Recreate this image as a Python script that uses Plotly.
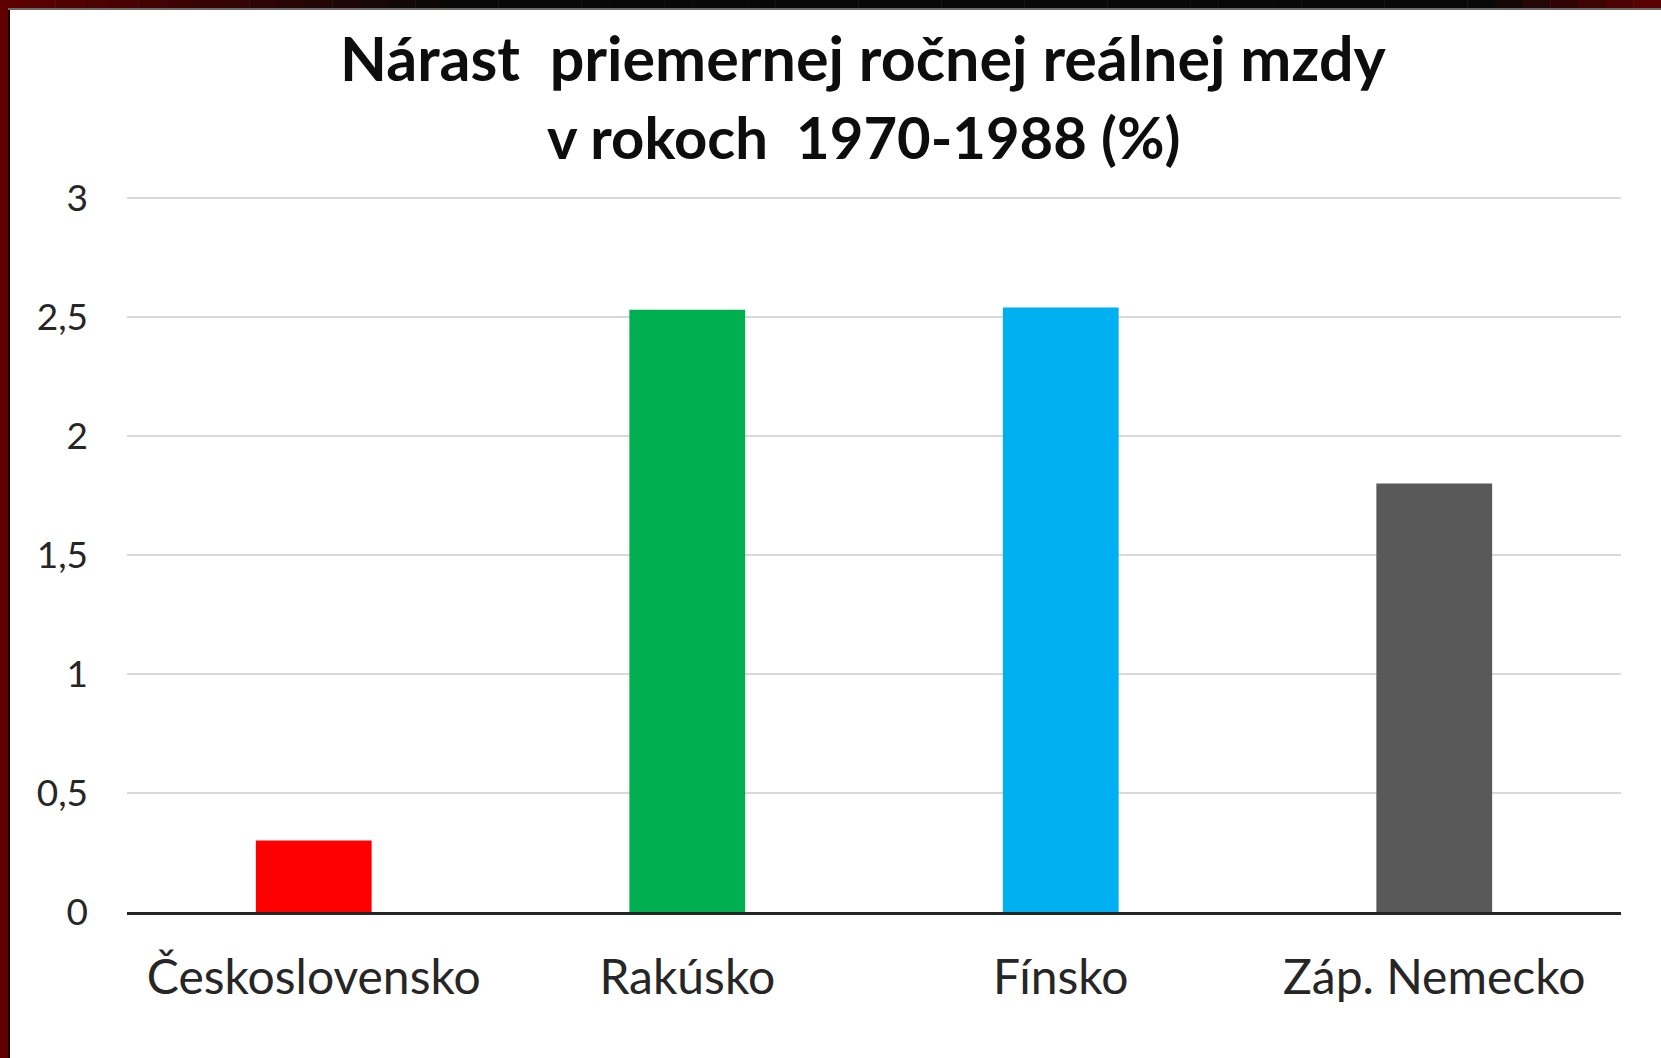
import plotly.graph_objects as go

# ---- data ----
categories = ["Československo", "Rakúsko", "Fínsko", "Záp. Nemecko"]
values = [0.30, 2.53, 2.54, 1.80]
bar_colors = ["#ff0000", "#00b050", "#00b0f0", "#595959"]
y_tickvals = [0, 0.5, 1, 1.5, 2, 2.5, 3]
y_ticktext = ["0", "0,5", "1", "1,5", "2", "2,5", "3"]
title_lines = ["Nárast\u00a0 priemernej ročnej reálnej mzdy", "v rokoch\u00a0 1970-1988 (%)"]

W, H = 1661, 1058
YMAX = 3.008  # tiny headroom so the gridline at 3 is drawn
ML, MR, MT, MB = 127, 40, 196, 146
PW, PH = W - ML - MR, H - MT - MB


def px_x(px):
    return (px - ML) / PW


def px_y(py):
    return (H - MB - py) / PH


fig = go.Figure()
fig.add_trace(go.Bar(
    x=categories, y=values,
    marker=dict(color=bar_colors, line=dict(width=0)),
    hoverinfo="x+y",
))

shapes = []
# left border (dark red) with thin black inner line
shapes.append(dict(type="rect", xref="paper", yref="paper", x0=px_x(0), x1=px_x(8),
                   y0=px_y(H), y1=px_y(0), fillcolor="#600000", line=dict(width=0), layer="above"))
shapes.append(dict(type="rect", xref="paper", yref="paper", x0=px_x(8), x1=px_x(10),
                   y0=px_y(H), y1=px_y(8), fillcolor="#1a0000", line=dict(width=0), layer="above"))


def lerp(c1, c2, t):
    return "#%02x%02x%02x" % tuple(int(round(a + (b - a) * t)) for a, b in zip(c1, c2))


red = (0x60, 0x00, 0x00)
blk = (0x08, 0x08, 0x08)
nseg = 60
for i in range(nseg):
    a = W * i / nseg
    b = W * (i + 1) / nseg
    m = (a + b) / 2
    if m < 450:
        c = lerp(red, blk, m / 450)
    elif m > 1480:
        c = lerp(blk, red, (m - 1480) / (W - 1480))
    else:
        c = lerp(blk, blk, 0)
    shapes.append(dict(type="rect", xref="paper", yref="paper", x0=px_x(a), x1=px_x(b + 0.5),
                       y0=px_y(8), y1=px_y(0), fillcolor=c, line=dict(width=0), layer="above"))
shapes.append(dict(type="rect", xref="paper", yref="paper", x0=px_x(8), x1=px_x(W),
                   y0=px_y(10), y1=px_y(8), fillcolor="#6a6a6a", line=dict(width=0), layer="above"))

annotations = []
for txt, mid, sz in zip(title_lines, [57.5, 137], [61, 58]):
    annotations.append(dict(
        text="<b>" + txt + "</b>", xref="paper", yref="paper",
        x=px_x(863), y=px_y(mid), xanchor="center", yanchor="middle",
        showarrow=False, font=dict(family="Lato", size=sz, color="#0d0d0d"),
    ))

fig.update_layout(
    width=W, height=H,
    margin=dict(l=ML, r=MR, t=MT, b=MB, pad=0),
    paper_bgcolor="white", plot_bgcolor="white",
    showlegend=False,
    bargap=0.69,
    font=dict(family="Lato"),
    shapes=shapes,
    annotations=annotations,
)

fig.update_xaxes(
    type="category",
    showgrid=False,
    showline=True, linecolor="#262626", linewidth=2.5,
    ticks="", ticklabelstandoff=22,
    tickfont=dict(family="Lato", size=48, color="#262626"),
    fixedrange=True,
)
fig.update_yaxes(
    range=[0, YMAX],
    tickvals=y_tickvals, ticktext=y_ticktext,
    showgrid=True, gridcolor="#d9d9d9", gridwidth=2,
    zeroline=False, showline=False,
    ticks="", ticklabelstandoff=38,
    tickfont=dict(family="Lato", size=37, color="#262626"),
    fixedrange=True,
)

fig.write_html(
    "out.html",
    config={"displayModeBar": False},
    post_script="document.body.style.margin='0';document.body.style.overflow='hidden';",
)
